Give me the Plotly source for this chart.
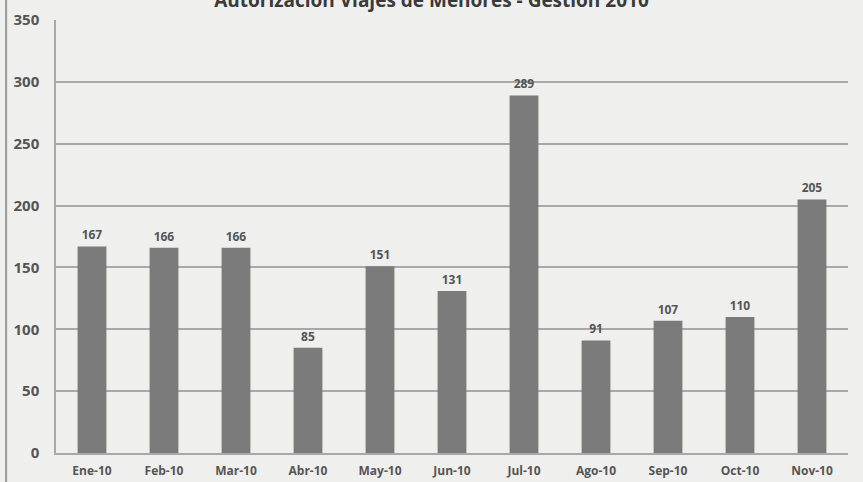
import plotly.graph_objects as go

# monthly values
months = ["Ene-10", "Feb-10", "Mar-10", "Abr-10", "May-10", "Jun-10",
          "Jul-10", "Ago-10", "Sep-10", "Oct-10", "Nov-10"]
counts = [167, 166, 166, 85, 151, 131, 289, 91, 107, 110, 205]
y_ticks = [0, 50, 100, 150, 200, 250, 300, 350]

font_family = "Open Sans, DejaVu Sans, sans-serif"

fig = go.Figure()

fig.add_trace(go.Bar(
    x=months,
    y=counts,
    width=0.4,
    marker=dict(color="#7b7b7b", line=dict(width=0)),
    text=[str(v) for v in counts],
    textposition="outside",
    textfont=dict(family=font_family, size=12, color="#555555", weight="bold"),
    cliponaxis=False,
    name="Viajes"
))

# thin vertical rule at the page's left edge
fig.add_shape(type="line", xref="paper", yref="paper",
              x0=-0.063, x1=-0.063, y0=-0.07, y1=1.05,
              line=dict(color="#9a9a9a", width=2))

fig.update_layout(
    width=863,
    height=482,
    margin=dict(l=56, r=15, t=20, b=29, autoexpand=False),
    paper_bgcolor="#efefed",
    plot_bgcolor="#efefed",
    showlegend=False,
    title=dict(
        text="<b>Autorización Viajes de Menores - Gestión 2010</b>",
        x=0.5, xanchor="center",
        y=1.0, yanchor="middle", yref="container",
        pad=dict(t=0, b=0),
        font=dict(family=font_family, size=19, color="#3a3a3a")
    ),
    font=dict(family=font_family, color="#555555"),
)

fig.update_xaxes(
    showgrid=False,
    showline=True,
    linecolor="#a8a8a8",
    linewidth=1.5,
    ticks="",
    automargin=False,
    ticklabelstandoff=6,
    tickfont=dict(family=font_family, size=12, color="#555555", weight="bold"),
)

fig.update_yaxes(
    range=[0, 350],
    tickvals=y_ticks,
    showgrid=True,
    gridcolor="#a8a8a8",
    gridwidth=1.5,
    zeroline=False,
    showline=True,
    linecolor="#a8a8a8",
    linewidth=1.5,
    ticks="",
    automargin=False,
    ticklabelstandoff=12,
    tickfont=dict(family=font_family, size=15, color="#555555", weight="bold"),
)

# drop the browser's default body margin so the figure sits at the page corner
fig.write_html("out.html", config={"displayModeBar": False},
               post_script="document.body.style.margin = '0';")
